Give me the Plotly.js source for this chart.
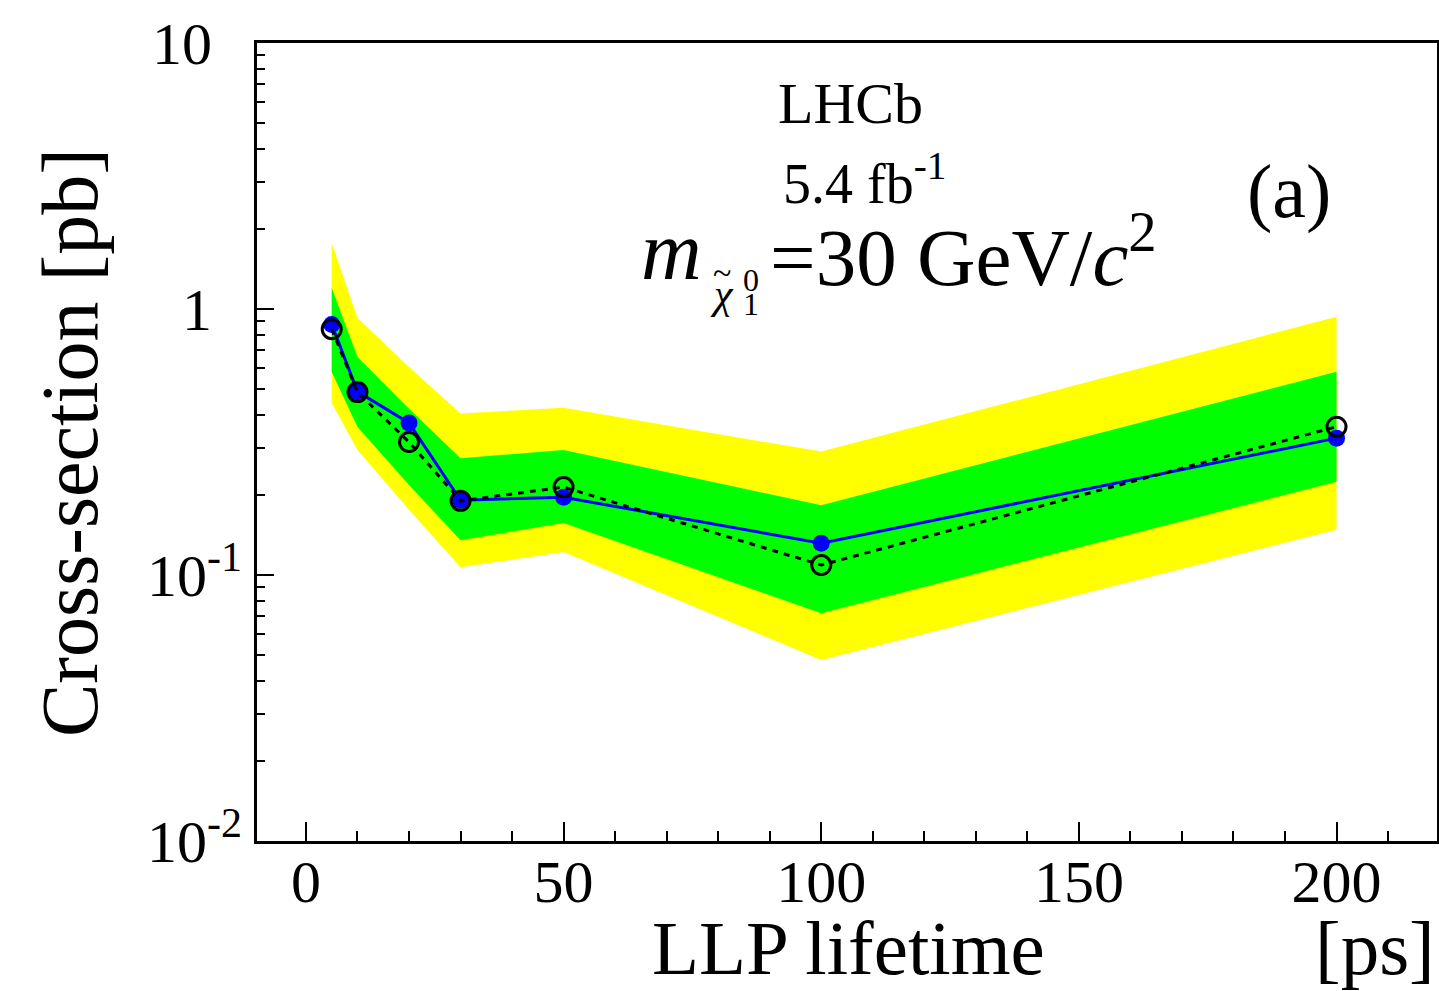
<!DOCTYPE html>
<html>
<head>
<meta charset="utf-8">
<script src="https://cdn.plot.ly/plotly-3.0.1.min.js"></script>
<style>
  html, body { margin: 0; padding: 0; background: #fff; }
  #chart { width: 1439px; height: 991px; }
</style>
</head>
<body>
<div id="chart"></div>
<script>
// ---- data ----
const lifetimes   = [5, 10, 20, 30, 50, 100, 200];           // LLP lifetime [ps]
const observed    = [0.875, 0.489, 0.373, 0.191, 0.196, 0.1316, 0.327];
const expected    = [0.84, 0.487, 0.316, 0.190, 0.214, 0.109, 0.361];
const band2Upper  = [1.77, 0.925, 0.605, 0.405, 0.425, 0.291, 0.935];   // +2 sigma
const band1Upper  = [1.20, 0.66, 0.422, 0.275, 0.295, 0.183, 0.581];    // +1 sigma
const band1Lower  = [0.58, 0.36, 0.218, 0.135, 0.157, 0.0718, 0.224];   // -1 sigma
const band2Lower  = [0.443, 0.295, 0.176, 0.107, 0.122, 0.0479, 0.148]; // -2 sigma
const yTickVals   = [0.01, 0.1, 1, 10];
const yTickText   = ['10<sup>-2</sup>', '10<sup>-1</sup>', '1\u00a0\u00a0', '10\u00a0\u00a0'];

// ---- helpers ----
const W = 1439, H = 991;
const M = {l: 257, r: 2, t: 43, b: 150};
const PW = W - M.l - M.r, PH = H - M.t - M.b;
const px = x => (x - M.l) / PW;
const py = y => (H - M.b - y) / PH;
const FONT = 'Liberation Serif, Times New Roman, serif';

function bandPolygon(upper, lower, color) {
  return {
    x: lifetimes.concat(lifetimes.slice().reverse()),
    y: upper.concat(lower.slice().reverse()),
    type: 'scatter', mode: 'lines', fill: 'toself',
    fillcolor: color, line: {width: 0, color: color},
    hoverinfo: 'skip', showlegend: false
  };
}

const traces = [
  bandPolygon(band2Upper, band2Lower, '#ffff00'),
  bandPolygon(band1Upper, band1Lower, '#00ff00'),
  {
    x: lifetimes, y: observed, type: 'scatter', mode: 'lines+markers',
    line: {color: '#0000ff', width: 3},
    marker: {color: '#0000ff', size: 17, symbol: 'circle'},
    showlegend: false
  },
  {
    x: lifetimes, y: expected, type: 'scatter', mode: 'lines+markers',
    line: {color: '#000000', width: 3, dash: '6px,6px'},
    marker: {color: '#000000', size: 19, symbol: 'circle-open',
             line: {color: '#000000', width: 3}},
    showlegend: false
  }
];

const minorY = [];
for (let k = -2; k <= 0; k++) for (let d = 2; d <= 9; d++) minorY.push(d * Math.pow(10, k));

const ann = (text, x, y, size, opts) => Object.assign({
  text: text, xref: 'paper', yref: 'paper', x: px(x), y: py(y),
  showarrow: false, font: {family: FONT, size: size, color: '#000'},
  xanchor: 'center', yanchor: 'middle'
}, opts || {});

const layout = {
  width: W, height: H,
  margin: M,
  paper_bgcolor: '#fff', plot_bgcolor: '#fff',
  font: {family: FONT, color: '#000'},
  showlegend: false,
  xaxis: {
    range: [-9.5, 219.5],
    showline: true, mirror: true, linecolor: '#000', linewidth: 3,
    showgrid: false, zeroline: false,
    ticks: 'inside', tickmode: 'linear', tick0: 0, dtick: 50,
    ticklen: 19, tickwidth: 2, tickcolor: '#000',
    tickfont: {family: FONT, size: 60, color: '#000'},
    ticklabelstandoff: -14,
    minor: {ticks: 'inside', tickmode: 'linear', tick0: 0, dtick: 10,
            ticklen: 10, tickwidth: 2, tickcolor: '#000', showgrid: false}
  },
  yaxis: {
    type: 'log', range: [-2, 1],
    showline: true, mirror: true, linecolor: '#000', linewidth: 3,
    showgrid: false, zeroline: false,
    ticks: 'inside', tickmode: 'array', tickvals: yTickVals, ticktext: yTickText,
    ticklen: 17, tickwidth: 2, tickcolor: '#000',
    tickfont: {family: FONT, size: 60, color: '#000'},
    ticklabelstandoff: 0,
    minor: {ticks: 'inside', tickmode: 'array', tickvals: minorY,
            ticklen: 8, tickwidth: 2, tickcolor: '#000', showgrid: false}
  },
  annotations: [
    ann('Cross-section [pb]', 70, 443, 80, {textangle: -90}),
    ann('LLP lifetime', 848, 948, 77),
    ann('[ps]', 1437, 948, 77, {xanchor: 'right'}),
    ann('LHCb', 851, 104, 58),
    ann('5.4 fb<sup>-1</sup>', 864, 180, 56),
    ann('(a)', 1289, 191, 76),
    ann('<i>m</i>', 671, 250, 84),
    ann('<i>χ</i>', 722, 294, 42),
    ann('~', 722, 272, 34),
    ann('0', 751, 280, 32),
    ann('1', 751, 304, 32),
    ann('=30 GeV/<i>c</i><sup>2</sup>', 768, 251, 81, {xanchor: 'left'})
  ]
};

Plotly.newPlot('chart', traces, layout, {staticPlot: true, displayModeBar: false});
</script>
</body>
</html>
